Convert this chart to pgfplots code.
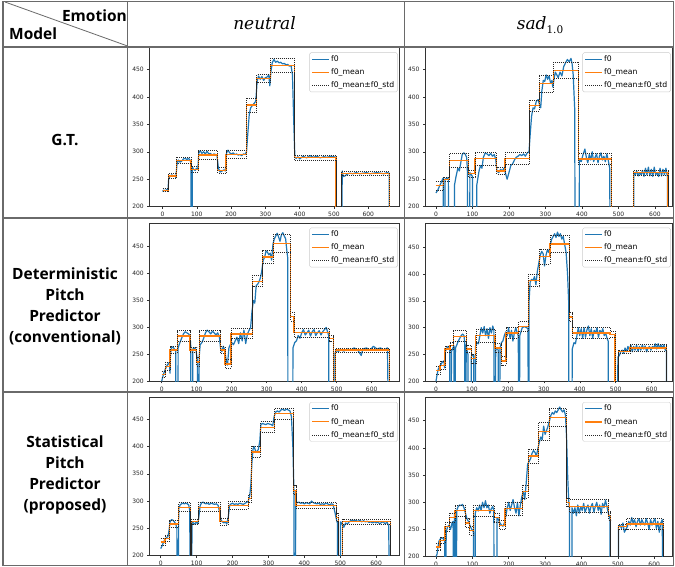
\documentclass[border=0pt]{standalone}
\usepackage{fontspec}
\setmainfont{DejaVu Sans}
\newfontfamily\lblfont{Open Sans}
\newfontfamily\hdfont{DejaVu Serif}
\usepackage{pgfplots}
\pgfplotsset{compat=1.18}
\usepackage{pgfplotstable}

\definecolor{mblue}{HTML}{1F77B4}
\definecolor{morange}{HTML}{FF7F0E}
\definecolor{tline}{HTML}{6A6A6A}

\pgfplotsset{
 f0ax/.style={
  scale only axis, ymin=200,
  xtick={0,100,...,600}, ytick={200,250,...,450},
  tick align=outside, major tick length=2pt, tick pos=left,
  axis line style={black!80, line width=0.6pt},
  tick style={black!80, line width=0.5pt},
  ticklabel style={font=\fontsize{6}{7}\selectfont, text=black!85},
  /pgf/number format/assume math mode=true,
  scaled ticks=false,
  legend cell align=left,
  legend style={at={(0.995,0.97)}, anchor=north east, draw=black!20,
    rounded corners=1.5pt, fill=white, font=\fontsize{7.7}{8.5}\selectfont,
    inner xsep=2pt, inner ysep=1.5pt, row sep=3.2pt,
    nodes={inner sep=1.3pt}},
 },
 f0line/.style={draw=mblue, line width=1.2pt, line join=round},
 meanline/.style={draw=morange, line width=1.2pt, const plot},
 stdline/.style={draw=black!85, line width=0.75pt, dash pattern=on 0.8pt off 1.2pt, const plot},
}

% ---------------- G.T. neutral
\pgfplotstableread[row sep=\\]{x y\\
0 228\\ 4 230\\ 8 229\\ 12 231\\ 16 230\\ 18 250\\ 22 256\\ 27 258\\ 32 255\\ 36 257\\ 39 253\\ 42 276\\ 46 285\\ 51 281\\ 56 283\\ 61 287\\ 66 288\\ 71 286\\ 76 288\\ 80 285\\ 83 280\\ 84 0\\ 86 0\\ 87 272\\ 91 268\\ 95 266\\ 99 270\\ 103 268\\ 106 298\\ 110 302\\ 115 297\\ 120 300\\ 125 296\\ 130 301\\ 135 296\\ 140 297\\ 145 294\\ 150 296\\ 155 295\\ 159 293\\ 163 270\\ 168 263\\ 174 265\\ 179 267\\ 183 265\\ 187 298\\ 191 303\\ 196 298\\ 201 296\\ 206 298\\ 211 295\\ 216 296\\ 221 294\\ 226 295\\ 231 293\\ 236 296\\ 241 295\\ 245 300\\ 249 335\\ 253 368\\ 257 380\\ 262 384\\ 267 388\\ 272 392\\ 276 428\\ 280 438\\ 285 432\\ 290 437\\ 295 430\\ 300 435\\ 305 436\\ 310 440\\ 313 420\\ 316 445\\ 320 462\\ 325 468\\ 330 463\\ 335 465\\ 340 462\\ 345 463\\ 350 460\\ 355 461\\ 360 458\\ 365 459\\ 370 456\\ 375 457\\ 379 440\\ 383 350\\ 386 290\\ 390 288\\ 395 291\\ 400 287\\ 410 292\\ 420 289\\ 430 293\\ 440 290\\ 450 292\\ 460 289\\ 470 291\\ 480 290\\ 490 292\\ 500 291\\ 505 290\\ 506 0\\ 523 0\\ 524 265\\ 527 255\\ 532 256\\ 538 259\\ 545 261\\ 555 260\\ 565 262\\ 575 260\\ 585 261\\ 595 262\\ 605 260\\ 615 261\\ 625 262\\ 635 261\\ 645 260\\ 655 262\\ 661 261\\ 662 0\\ 690 0\\
}\fA
\pgfplotstableread[row sep=\\]{x m lo hi\\
0 230 227 233\\ 17 256 252 261\\ 40 284 279 290\\ 83 268 263 273\\ 104 294 286 302\\ 161 266 261 271\\ 185 295 288 302\\ 244 385 372 398\\ 275 433 426 441\\ 314 457 444 470\\ 384 289 285 294\\ 506 0 0 0\\ 523 261 257 264\\ 662 0 0 0\\ 690 0 0 0\\
}\mA

% ---------------- G.T. sad
\pgfplotstableread[row sep=\\]{x y\\
0 225\\ 5 230\\ 10 238\\ 15 245\\ 18 250\\ 20 252\\ 21 0\\ 24 0\\ 25 250\\ 30 253\\ 34 250\\ 36 0\\ 50 0\\ 51 240\\ 55 255\\ 60 270\\ 64 265\\ 68 280\\ 72 295\\ 76 298\\ 80 296\\ 84 290\\ 86 270\\ 87 0\\ 92 0\\ 93 262\\ 97 258\\ 100 255\\ 102 0\\ 110 0\\ 112 240\\ 118 265\\ 122 275\\ 126 270\\ 130 290\\ 135 298\\ 140 296\\ 145 293\\ 150 297\\ 155 292\\ 160 295\\ 164 285\\ 167 265\\ 172 262\\ 177 268\\ 182 265\\ 186 270\\ 190 262\\ 195 250\\ 200 262\\ 205 275\\ 210 278\\ 215 285\\ 220 290\\ 225 292\\ 230 295\\ 235 293\\ 240 296\\ 245 292\\ 250 298\\ 255 300\\ 258 330\\ 262 365\\ 266 380\\ 270 378\\ 275 392\\ 280 395\\ 284 385\\ 287 380\\ 290 410\\ 294 430\\ 298 428\\ 302 440\\ 306 432\\ 310 438\\ 314 425\\ 318 430\\ 320 418\\ 323 430\\ 327 445\\ 331 440\\ 335 435\\ 340 445\\ 345 438\\ 350 455\\ 355 462\\ 360 468\\ 365 464\\ 370 470\\ 373 460\\ 376 440\\ 380 380\\ 382 0\\ 392 0\\ 393 285\\ 398 282\\ 403 295\\ 408 305\\ 412 290\\ 416 280\\ 420 295\\ 424 285\\ 428 300\\ 432 282\\ 436 290\\ 440 296\\ 444 280\\ 448 292\\ 452 298\\ 456 285\\ 460 292\\ 464 282\\ 468 296\\ 472 285\\ 476 270\\ 478 0\\ 541 0\\ 542 262\\ 546 258\\ 550 265\\ 554 256\\ 558 262\\ 562 258\\ 566 266\\ 570 255\\ 574 270\\ 578 258\\ 582 272\\ 586 256\\ 590 268\\ 594 255\\ 598 272\\ 602 258\\ 606 262\\ 610 255\\ 614 270\\ 618 256\\ 622 268\\ 626 258\\ 630 270\\ 634 255\\ 636 0\\ 650 0\\
}\fB
\pgfplotstableread[row sep=\\]{x m lo hi\\
0 238 230 247\\ 20 250 246 254\\ 38 284 272 297\\ 89 260 254 266\\ 107 288 276 299\\ 166 265 259 271\\ 189 288 277 298\\ 256 384 374 394\\ 283 424 408 440\\ 321 448 433 463\\ 390 287 277 297\\ 481 0 0 0\\ 541 262 257 267\\ 636 0 0 0\\ 650 0 0 0\\
}\mB

% ---------------- Deterministic neutral
\pgfplotstableread[row sep=\\]{x y\\
0 200\\ 3 208\\ 6 215\\ 10 222\\ 14 228\\ 18 232\\ 22 235\\ 24 215\\ 25 250\\ 28 262\\ 32 264\\ 36 260\\ 40 258\\ 41 0\\ 46 0\\ 47 262\\ 52 272\\ 57 280\\ 62 288\\ 67 292\\ 72 290\\ 77 288\\ 81 284\\ 83 265\\ 84 0\\ 88 0\\ 89 260\\ 94 262\\ 98 258\\ 102 238\\ 103 0\\ 106 0\\ 107 245\\ 110 268\\ 115 272\\ 120 280\\ 125 290\\ 130 295\\ 135 292\\ 140 288\\ 145 293\\ 150 290\\ 155 286\\ 160 290\\ 165 282\\ 168 262\\ 172 255\\ 176 265\\ 180 258\\ 184 240\\ 188 230\\ 192 262\\ 196 268\\ 200 272\\ 205 268\\ 210 275\\ 215 282\\ 220 270\\ 225 290\\ 230 275\\ 235 295\\ 240 270\\ 245 288\\ 250 295\\ 254 300\\ 258 330\\ 262 350\\ 266 345\\ 270 378\\ 274 380\\ 278 385\\ 282 392\\ 286 405\\ 290 425\\ 294 430\\ 298 442\\ 302 440\\ 306 435\\ 310 438\\ 314 425\\ 318 455\\ 322 465\\ 326 470\\ 330 475\\ 334 468\\ 338 460\\ 342 472\\ 346 476\\ 350 470\\ 354 465\\ 358 440\\ 360 430\\ 361 0\\ 374 0\\ 375 262\\ 380 272\\ 385 275\\ 390 285\\ 395 280\\ 400 290\\ 405 296\\ 410 286\\ 415 290\\ 420 295\\ 425 284\\ 430 292\\ 435 296\\ 440 285\\ 445 290\\ 450 294\\ 455 286\\ 460 292\\ 465 296\\ 470 300\\ 474 292\\ 477 285\\ 478 0\\ 494 0\\ 495 252\\ 500 258\\ 505 255\\ 510 260\\ 520 256\\ 530 260\\ 540 258\\ 550 262\\ 560 258\\ 570 248\\ 575 260\\ 585 262\\ 595 258\\ 605 265\\ 615 260\\ 625 262\\ 635 258\\ 645 262\\ 650 0\\ 670 0\\
}\fC
\pgfplotstableread[row sep=\\]{x m lo hi\\
0 213 207 219\\ 10 228 220 236\\ 24 258 252 264\\ 45 284 274 294\\ 81 258 253 263\\ 100 236 228 244\\ 108 284 275 294\\ 167 258 252 264\\ 181 232 224 240\\ 198 288 279 298\\ 260 386 376 397\\ 289 431 419 444\\ 319 456 440 472\\ 369 320 312 328\\ 378 290 282 298\\ 480 280 275 285\\ 490 0 0 0\\ 497 258 254 262\\ 650 0 0 0\\ 670 0 0 0\\
}\mC

% ---------------- Deterministic sad
\pgfplotstableread[row sep=\\]{x y\\
0 200\\ 3 212\\ 6 222\\ 10 228\\ 14 232\\ 18 236\\ 22 238\\ 24 225\\ 26 255\\ 30 262\\ 34 265\\ 38 262\\ 39 0\\ 42 0\\ 43 255\\ 47 262\\ 50 266\\ 51 0\\ 53 0\\ 54 262\\ 58 268\\ 62 275\\ 66 280\\ 70 285\\ 74 288\\ 78 285\\ 80 270\\ 81 0\\ 83 0\\ 84 268\\ 87 255\\ 89 250\\ 90 0\\ 97 0\\ 98 245\\ 102 250\\ 105 248\\ 106 0\\ 109 0\\ 110 265\\ 114 272\\ 118 270\\ 122 285\\ 126 300\\ 130 290\\ 134 302\\ 138 285\\ 142 298\\ 146 280\\ 150 300\\ 154 290\\ 158 303\\ 161 295\\ 162 0\\ 165 0\\ 166 258\\ 170 262\\ 173 258\\ 174 0\\ 177 0\\ 178 262\\ 182 272\\ 186 275\\ 190 285\\ 194 292\\ 198 285\\ 202 300\\ 206 280\\ 210 295\\ 214 275\\ 218 290\\ 222 300\\ 226 290\\ 229 285\\ 230 0\\ 232 0\\ 233 285\\ 240 300\\ 246 302\\ 252 300\\ 256 298\\ 257 0\\ 258 0\\ 259 350\\ 262 385\\ 266 390\\ 270 388\\ 274 395\\ 278 380\\ 282 405\\ 286 420\\ 290 435\\ 294 442\\ 298 438\\ 302 415\\ 306 435\\ 310 445\\ 314 440\\ 318 455\\ 322 465\\ 326 470\\ 330 475\\ 334 468\\ 338 478\\ 342 470\\ 346 475\\ 350 465\\ 354 470\\ 358 455\\ 362 440\\ 366 400\\ 369 350\\ 370 0\\ 378 0\\ 379 260\\ 384 272\\ 388 270\\ 392 285\\ 396 300\\ 400 285\\ 404 298\\ 408 280\\ 412 300\\ 416 282\\ 420 296\\ 424 303\\ 428 285\\ 432 298\\ 436 280\\ 440 295\\ 444 290\\ 448 300\\ 452 282\\ 456 295\\ 460 290\\ 464 298\\ 468 285\\ 472 290\\ 476 280\\ 479 275\\ 480 0\\ 505 0\\ 506 245\\ 510 248\\ 514 255\\ 518 258\\ 522 252\\ 526 262\\ 530 255\\ 534 265\\ 538 258\\ 542 268\\ 546 255\\ 550 265\\ 554 258\\ 558 268\\ 562 256\\ 566 265\\ 570 258\\ 574 268\\ 578 260\\ 582 266\\ 586 255\\ 590 262\\ 594 265\\ 598 258\\ 602 265\\ 606 262\\ 610 270\\ 614 260\\ 618 270\\ 622 262\\ 626 268\\ 630 262\\ 634 268\\ 638 258\\ 641 262\\ 642 0\\ 660 0\\
}\fD
\pgfplotstableread[row sep=\\]{x m lo hi\\
0 220 212 228\\ 11 230 222 238\\ 25 260 254 266\\ 39 266 259 273\\ 48 284 274 294\\ 85 260 253 267\\ 99 242 234 250\\ 111 285 273 297\\ 164 262 254 270\\ 183 238 230 246\\ 195 290 280 300\\ 229 302 293 311\\ 257 388 376 400\\ 288 432 418 446\\ 317 456 440 472\\ 371 320 312 328\\ 380 290 280 300\\ 484 287 281 293\\ 498 0 0 0\\ 507 255 252 258\\ 540 262 256 268\\ 642 0 0 0\\ 660 0 0 0\\
}\mD

% ---------------- Statistical neutral
\pgfplotstableread[row sep=\\]{x y\\
0 213\\ 4 218\\ 8 225\\ 12 230\\ 16 233\\ 20 235\\ 23 245\\ 26 262\\ 30 266\\ 34 265\\ 38 262\\ 42 258\\ 45 250\\ 46 0\\ 49 0\\ 50 285\\ 54 293\\ 58 295\\ 62 296\\ 66 295\\ 70 296\\ 74 295\\ 78 293\\ 81 282\\ 82 0\\ 86 0\\ 87 262\\ 91 260\\ 95 258\\ 99 262\\ 103 258\\ 106 270\\ 110 292\\ 114 297\\ 118 298\\ 122 296\\ 126 295\\ 130 296\\ 135 294\\ 140 296\\ 145 295\\ 150 294\\ 155 295\\ 160 292\\ 164 280\\ 168 265\\ 172 262\\ 176 260\\ 180 262\\ 184 258\\ 188 270\\ 192 292\\ 196 295\\ 200 296\\ 205 294\\ 210 295\\ 215 294\\ 220 296\\ 225 295\\ 230 294\\ 235 296\\ 240 298\\ 244 300\\ 248 310\\ 251 330\\ 254 370\\ 257 395\\ 260 400\\ 264 392\\ 268 390\\ 272 395\\ 276 410\\ 279 440\\ 283 442\\ 288 441\\ 293 440\\ 298 442\\ 303 441\\ 308 440\\ 312 438\\ 316 455\\ 320 463\\ 325 465\\ 330 463\\ 335 467\\ 340 468\\ 345 466\\ 350 468\\ 355 467\\ 360 465\\ 364 455\\ 368 400\\ 371 320\\ 372 0\\ 375 0\\ 376 300\\ 380 297\\ 385 298\\ 390 296\\ 395 297\\ 400 295\\ 405 297\\ 410 296\\ 415 295\\ 420 300\\ 425 297\\ 430 296\\ 435 295\\ 440 296\\ 445 294\\ 450 295\\ 455 294\\ 460 296\\ 465 295\\ 470 293\\ 475 295\\ 480 294\\ 485 280\\ 490 265\\ 492 260\\ 493 0\\ 500 0\\ 501 262\\ 505 258\\ 510 252\\ 515 260\\ 520 258\\ 525 262\\ 530 265\\ 535 264\\ 540 265\\ 545 264\\ 550 263\\ 555 265\\ 560 262\\ 565 264\\ 570 262\\ 575 263\\ 580 261\\ 585 262\\ 590 260\\ 595 262\\ 600 260\\ 605 262\\ 610 258\\ 615 261\\ 620 262\\ 625 258\\ 630 262\\ 635 255\\ 639 0\\ 660 0\\
}\fE
\pgfplotstableread[row sep=\\]{x m lo hi\\
0 225 219 231\\ 12 232 226 238\\ 24 258 252 264\\ 49 288 281 297\\ 82 0 0 0\\ 86 262 257 267\\ 105 288 281 298\\ 165 262 256 268\\ 188 292 285 299\\ 244 305 298 312\\ 253 390 380 400\\ 277 435 425 445\\ 316 460 449 470\\ 370 320 312 328\\ 377 292 286 298\\ 490 270 262 278\\ 495 0 0 0\\ 507 262 257 267\\ 639 0 0 0\\ 660 0 0 0\\
}\mE

% ---------------- Statistical sad
\pgfplotstableread[row sep=\\]{x y\\
0 200\\ 3 205\\ 5 215\\ 8 228\\ 12 233\\ 16 235\\ 20 233\\ 24 228\\ 25 0\\ 27 0\\ 28 245\\ 32 255\\ 36 258\\ 40 250\\ 44 262\\ 47 265\\ 48 0\\ 50 0\\ 51 280\\ 53 285\\ 54 0\\ 56 0\\ 57 285\\ 61 292\\ 65 295\\ 69 294\\ 73 296\\ 77 290\\ 81 280\\ 85 270\\ 89 265\\ 93 258\\ 97 252\\ 101 248\\ 103 245\\ 104 0\\ 107 0\\ 108 280\\ 112 290\\ 116 284\\ 120 295\\ 124 285\\ 128 300\\ 132 290\\ 136 303\\ 140 290\\ 144 295\\ 148 280\\ 152 288\\ 156 292\\ 159 285\\ 160 0\\ 167 0\\ 168 272\\ 172 268\\ 176 262\\ 180 258\\ 184 256\\ 188 262\\ 192 275\\ 196 290\\ 200 300\\ 204 285\\ 208 295\\ 212 305\\ 216 290\\ 220 280\\ 224 300\\ 228 275\\ 232 295\\ 236 310\\ 240 320\\ 244 305\\ 248 335\\ 252 370\\ 256 375\\ 260 380\\ 264 390\\ 268 395\\ 272 392\\ 276 385\\ 280 398\\ 284 410\\ 288 420\\ 292 415\\ 296 440\\ 300 425\\ 304 432\\ 308 440\\ 312 450\\ 316 460\\ 320 465\\ 324 462\\ 328 468\\ 332 465\\ 336 470\\ 340 475\\ 344 470\\ 348 466\\ 352 470\\ 356 460\\ 359 420\\ 362 350\\ 365 300\\ 367 290\\ 368 0\\ 373 0\\ 374 290\\ 378 280\\ 382 290\\ 386 275\\ 390 295\\ 394 280\\ 398 292\\ 402 285\\ 406 298\\ 410 282\\ 414 290\\ 418 295\\ 422 280\\ 426 292\\ 430 298\\ 434 282\\ 438 292\\ 442 300\\ 446 285\\ 450 295\\ 454 278\\ 458 298\\ 462 290\\ 466 304\\ 470 292\\ 474 280\\ 478 270\\ 480 0\\ 501 0\\ 502 255\\ 506 258\\ 510 252\\ 514 262\\ 518 245\\ 522 250\\ 526 255\\ 530 265\\ 534 258\\ 538 272\\ 542 262\\ 546 268\\ 550 255\\ 554 265\\ 558 270\\ 562 258\\ 566 268\\ 570 262\\ 574 258\\ 578 270\\ 582 262\\ 586 250\\ 590 268\\ 594 258\\ 598 265\\ 602 270\\ 606 252\\ 610 265\\ 614 245\\ 618 262\\ 622 268\\ 625 0\\ 650 0\\
}\fF
\pgfplotstableread[row sep=\\]{x m lo hi\\
0 218 212 224\\ 11 230 224 236\\ 25 255 247 263\\ 38 272 264 280\\ 52 285 275 295\\ 82 262 254 270\\ 93 248 240 256\\ 104 285 275 295\\ 160 272 264 280\\ 174 258 250 266\\ 190 288 276 300\\ 238 320 308 332\\ 254 385 372 398\\ 281 430 414 446\\ 312 456 440 472\\ 359 300 292 308\\ 368 293 281 305\\ 474 275 267 283\\ 480 0 0 0\\ 501 255 251 259\\ 524 260 250 270\\ 625 0 0 0\\ 650 0 0 0\\
}\mF

\newcommand{\fplot}[2]{%
  \addplot[f0line, forget plot] table[x=x,y=y] {#1};
  \addplot[meanline, forget plot] table[x=x,y=m] {#2};
  \addplot[stdline, forget plot] table[x=x,y=hi] {#2};
  \addplot[stdline, forget plot] table[x=x,y=lo] {#2};
  \addlegendimage{legend image code/.code={\draw[mblue, line width=1.2pt] (0pt,0pt) -- (17pt,0pt);}}
  \addlegendentry{f0}
  \addlegendimage{legend image code/.code={\draw[morange, line width=1.2pt] (0pt,0pt) -- (17pt,0pt);}}
  \addlegendentry{f0\_mean}
  \addlegendimage{legend image code/.code={\draw[black!85, line width=0.75pt, dash pattern=on 0.8pt off 1.2pt] (0pt,0pt) -- (17pt,0pt);}}
  \addlegendentry{f0\_mean±f0\_std}
}

\begin{document}
\begin{tikzpicture}
\useasboundingbox (0pt,0pt) rectangle (675pt,567pt);
\fill[white] (0pt,0pt) rectangle (675pt,567pt);

% plots
\begin{axis}[f0ax, at={(149.3pt,360.3pt)}, anchor=south west, width=249.7pt, height=159pt,
  xmin=-38.5, xmax=689.7, ymax=489.5]
\fplot{\fA}{\mA}
\end{axis}
\begin{axis}[f0ax, at={(425pt,360.3pt)}, anchor=south west, width=247pt, height=159pt,
  xmin=-30, xmax=646.7, ymax=489.5]
\fplot{\fB}{\mB}
\end{axis}
\begin{axis}[f0ax, at={(149.3pt,185.7pt)}, anchor=south west, width=249.7pt, height=158.3pt,
  xmin=-35.4, xmax=678, ymax=494]
\fplot{\fC}{\mC}
\end{axis}
\begin{axis}[f0ax, at={(425pt,185.7pt)}, anchor=south west, width=247pt, height=158.3pt,
  xmin=-30.6, xmax=656.6, ymax=495]
\fplot{\fD}{\mD}
\end{axis}
\begin{axis}[f0ax, at={(149.3pt,11.3pt)}, anchor=south west, width=249.7pt, height=158.4pt,
  xmin=-31.8, xmax=663.7, ymax=490]
\fplot{\fE}{\mE}
\end{axis}
\begin{axis}[f0ax, at={(425pt,10.3pt)}, anchor=south west, width=247pt, height=159.4pt,
  xmin=-30.2, xmax=648.9, ymax=493]
\fplot{\fF}{\mF}
\end{axis}

% table lines
\begin{scope}[draw=tline, line width=1.2pt]
\draw (3pt,565.5pt) rectangle (673.5pt,1.5pt);
\draw (127.5pt,565.5pt) -- (127.5pt,1.5pt);
\draw (404.5pt,565.5pt) -- (404.5pt,1.5pt);
\draw (3pt,520pt) -- (673.5pt,520pt);
\draw (3pt,349pt) -- (673.5pt,349pt);
\draw (3pt,175pt) -- (673.5pt,175pt);
\end{scope}
\draw[tline, line width=0.8pt] (5pt,565pt) -- (127.5pt,521pt);

% header texts
\node[font=\lblfont\bfseries\fontsize{15.5}{17}\selectfont, anchor=east, inner sep=0pt] at (127pt,551pt) {Emotion};
\node[font=\lblfont\bfseries\fontsize{15.5}{17}\selectfont, anchor=west, inner sep=0pt] at (9pt,533.5pt) {Model};
\node[font=\hdfont\itshape\fontsize{17}{20}\selectfont, anchor=base, inner sep=0pt] at (264.5pt,537pt) {neutral};
\node[anchor=base, inner sep=0pt] at (540pt,537pt) {{\hdfont\itshape\fontsize{17}{20}\selectfont sad}\raisebox{-3.5pt}{\hdfont\fontsize{10.5}{12}\selectfont 1.0}};

% row labels
\node[font=\lblfont\bfseries\fontsize{15.5}{21}\selectfont, align=center] at (65pt,427pt) {G.T.};
\node[font=\lblfont\bfseries\fontsize{15.5}{21}\selectfont, align=center] at (65pt,261pt) {Deterministic\\Pitch\\Predictor\\(conventional)};
\node[font=\lblfont\bfseries\fontsize{15.5}{21}\selectfont, align=center] at (65pt,92pt) {Statistical\\Pitch\\Predictor\\(proposed)};
\end{tikzpicture}
\end{document}
